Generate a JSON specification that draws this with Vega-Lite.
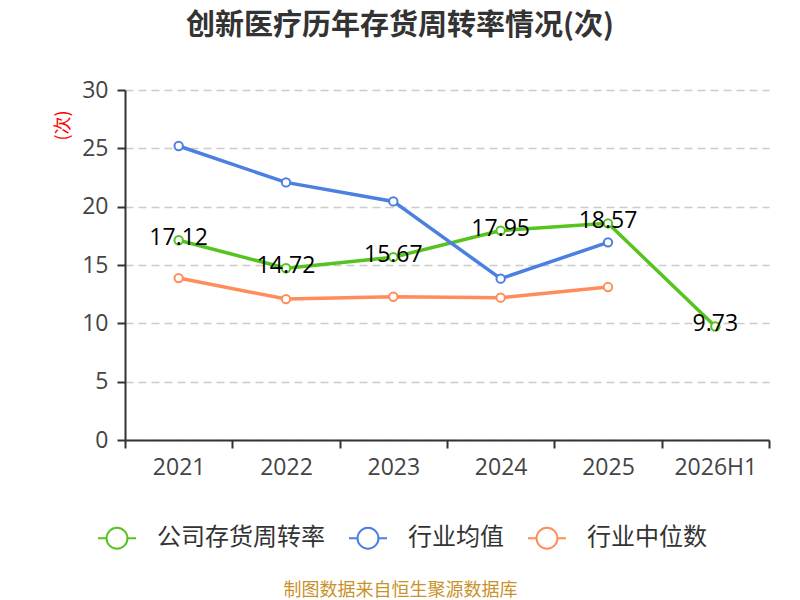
{
  "$schema": "https://vega.github.io/schema/vega-lite/v6.json",
  "width": 644,
  "height": 350,
  "autosize": {"type": "none"},
  "padding": {"left": 125, "top": 90, "right": 31, "bottom": 160},
  "background": "white",
  "config": {
    "view": {"stroke": null},
    "font": "Noto Sans CJK SC"
  },
  "title": {
    "text": "创新医疗历年存货周转率情况(次)",
    "fontSize": 29,
    "fontWeight": "bold",
    "color": "#333333",
    "anchor": "middle",
    "dx": -47,
    "offset": 38
  },
  "data": {
    "values": [
      {"year": "2021", "series": "公司存货周转率", "value": 17.12},
      {"year": "2022", "series": "公司存货周转率", "value": 14.72},
      {"year": "2023", "series": "公司存货周转率", "value": 15.67},
      {"year": "2024", "series": "公司存货周转率", "value": 17.95},
      {"year": "2025", "series": "公司存货周转率", "value": 18.57},
      {"year": "2026H1", "series": "公司存货周转率", "value": 9.73},
      {"year": "2021", "series": "行业均值", "value": 25.2},
      {"year": "2022", "series": "行业均值", "value": 22.08},
      {"year": "2023", "series": "行业均值", "value": 20.45},
      {"year": "2024", "series": "行业均值", "value": 13.83},
      {"year": "2025", "series": "行业均值", "value": 16.94},
      {"year": "2021", "series": "行业中位数", "value": 13.88},
      {"year": "2022", "series": "行业中位数", "value": 12.08},
      {"year": "2023", "series": "行业中位数", "value": 12.28},
      {"year": "2024", "series": "行业中位数", "value": 12.2},
      {"year": "2025", "series": "行业中位数", "value": 13.11}
    ]
  },
  "encoding": {
    "x": {
      "field": "year",
      "type": "ordinal",
      "sort": ["2021", "2022", "2023", "2024", "2025", "2026H1"],
      "scale": {"paddingInner": 0, "paddingOuter": 0},
      "axis": {
        "title": "制图数据来自恒生聚源数据库",
        "titleColor": "#c8922a",
        "titleFontSize": 18,
        "titleFontWeight": "normal",
        "titleX": 275,
        "titleY": 150,
        "titleBaseline": "middle",
        "titleAlign": "center",
        "labelAngle": 0,
        "labelFont": "Open Sans",
        "labelFontSize": 23,
        "labelColor": "#444444",
        "labelPadding": 8,
        "domainColor": "#333333",
        "domainWidth": 2,
        "tickColor": "#333333",
        "tickWidth": 2,
        "tickSize": 8,
        "tickBand": "extent",
        "grid": false
      }
    },
    "y": {
      "field": "value",
      "type": "quantitative",
      "scale": {"domain": [0, 30], "nice": false},
      "axis": {
        "values": [0, 5, 10, 15, 20, 25, 30],
        "title": "(次)",
        "titleColor": "#ff0000",
        "titleFontSize": 18,
        "titleFontWeight": "normal",
        "titleX": -62,
        "titleY": 35,
        "titleAlign": "center",
        "titleBaseline": "middle",
        "labelFont": "Open Sans",
        "labelFontSize": 23,
        "labelColor": "#444444",
        "labelPadding": 9,
        "domainColor": "#333333",
        "domainWidth": 2,
        "tickColor": "#333333",
        "tickWidth": 2,
        "tickSize": 8,
        "grid": true,
        "gridColor": "#cccccc",
        "gridDash": [8, 5],
        "gridWidth": 1.5
      }
    }
  },
  "layer": [
    {
      "mark": {"type": "line", "strokeWidth": 3.5},
      "encoding": {
        "color": {
          "field": "series",
          "type": "nominal",
          "sort": ["公司存货周转率", "行业均值", "行业中位数"],
          "scale": {
            "domain": ["公司存货周转率", "行业均值", "行业中位数"],
            "range": ["#56c31f", "#4b7fe0", "#ff8c5a"]
          },
          "legend": {
            "title": null,
            "orient": "none",
            "direction": "horizontal",
            "legendX": -28,
            "legendY": 428,
            "symbolType": "M-1,0L-0.55,0M0.55,0L1,0M0.55,0A0.55,0.55,0,1,1,-0.55,0A0.55,0.55,0,1,1,0.55,0",
            "symbolSize": 1444,
            "symbolStrokeWidth": 2,
            "symbolFillColor": "white",
            "labelFontSize": 24,
            "labelLimit": 400,
            "labelColor": "#333333",
            "labelOffset": 20,
            "columnPadding": 20
          }
        }
      }
    },
    {
      "mark": {"type": "circle", "size": 70, "fill": "white", "fillOpacity": 1, "opacity": 1, "strokeWidth": 2},
      "encoding": {
        "stroke": {
          "field": "series",
          "type": "nominal",
          "scale": {
            "domain": ["公司存货周转率", "行业均值", "行业中位数"],
            "range": ["#56c31f", "#4b7fe0", "#ff8c5a"]
          },
          "legend": null
        }
      }
    },
    {
      "transform": [{"filter": "datum.series === '公司存货周转率'"}],
      "mark": {"type": "text", "font": "Open Sans", "fontSize": 23, "color": "#000000", "dy": -2, "baseline": "middle"},
      "encoding": {
        "text": {"field": "value", "type": "quantitative", "format": ".2f"}
      }
    }
  ]
}
